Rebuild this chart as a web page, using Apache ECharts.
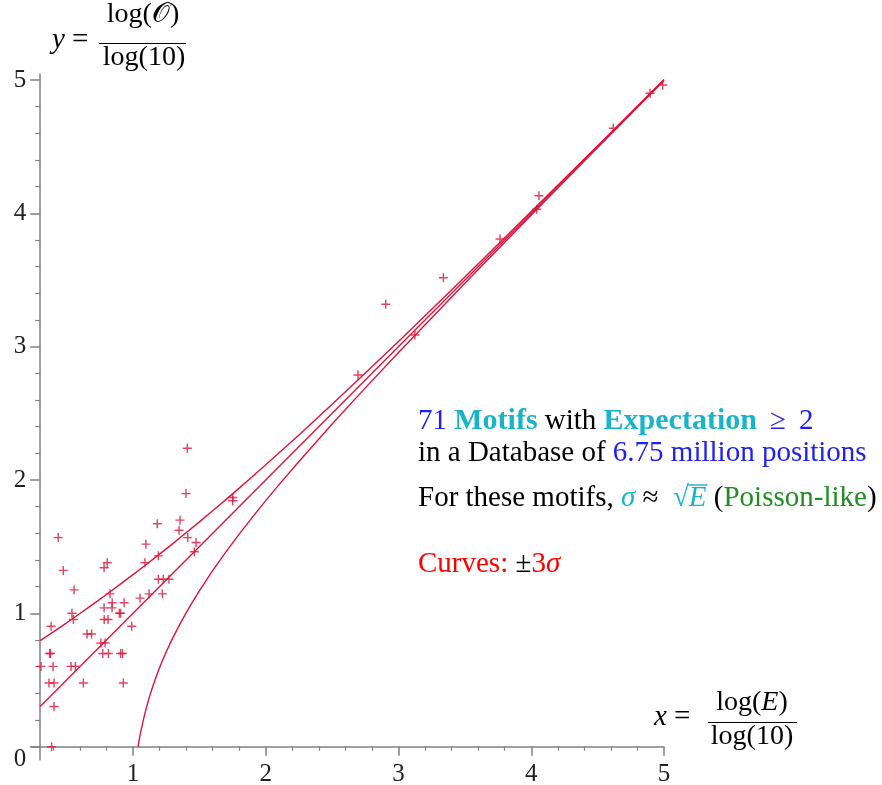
<!DOCTYPE html>
<html><head><meta charset="utf-8">
<script src="https://cdn.jsdelivr.net/npm/echarts@6/dist/echarts.min.js"></script>
<style>html,body{margin:0;padding:0;background:#fff}#c{width:882px;height:785px}</style>
</head><body><div id="c"></div>
<script>
// Observed motifs: x = log10(E), y = log10(O)
const obsX = [0.387, 0.405, 0.367, 0.405, 0.626, 0.927, 0.307, 0.398, 0.533, 0.566,
  0.372, 0.378, 0.772, 0.815, 0.907, 0.921, 0.758, 0.790, 0.654, 0.688,
  0.383, 0.990, 0.551, 0.783, 0.812, 0.540, 0.897, 0.907, 0.782, 0.842,
  0.843, 0.933, 1.053, 0.827, 1.121, 1.221, 0.556, 1.191, 1.228, 1.271,
  0.475, 0.782, 0.806, 1.090, 1.191, 1.462, 1.097, 1.475, 0.437, 1.412,
  1.347, 1.183, 1.354, 1.399, 1.751, 1.751, 1.409,
  2.695, 2.904, 3.124, 3.338, 3.765, 4.041, 4.058, 4.618, 4.895, 4.990];
const obsY = [0.000, 0.301, 0.477, 0.477, 0.477, 0.477, 0.602, 0.602, 0.602, 0.602,
  0.699, 0.699, 0.699, 0.699, 0.699, 0.699, 0.778, 0.778, 0.845, 0.845,
  0.903, 0.903, 0.954, 0.954, 0.954, 1.000, 1.000, 1.000, 1.041, 1.041,
  1.079, 1.079, 1.114, 1.146, 1.146, 1.146, 1.176, 1.255, 1.255, 1.255,
  1.322, 1.342, 1.380, 1.380, 1.431, 1.462, 1.519, 1.531, 1.568, 1.568,
  1.623, 1.672, 1.699, 1.898, 1.869, 1.845, 2.238,
  2.788, 3.318, 3.088, 3.517, 3.808, 4.030, 4.132, 4.638, 4.900, 4.963];

// Curves (+3 sigma, expectation, -3 sigma)
const upperX = [0.301, 0.4, 0.5, 0.6, 0.7, 0.8, 0.9, 1.0, 1.1, 1.2, 1.3, 1.4, 1.5, 1.6, 1.7, 1.8, 1.9, 2.0, 2.25, 2.5, 2.75, 3.0, 3.5, 4.0, 4.5, 5.0];
const upperY = [0.795, 0.861, 0.929, 0.999, 1.069, 1.141, 1.215, 1.290, 1.366, 1.444, 1.523, 1.604, 1.686, 1.769, 1.853, 1.939, 2.026, 2.114, 2.338, 2.568, 2.802, 3.039, 3.523, 4.013, 4.507, 5.004];
const midX = [0.301, 5.0];
const midY = [0.301, 5.0];
const lowerX = [1.038, 1.045, 1.05, 1.06, 1.075, 1.09, 1.1, 1.125, 1.15, 1.175, 1.2, 1.225, 1.25, 1.275, 1.3, 1.35, 1.4, 1.45, 1.5, 1.6, 1.7, 1.8, 1.9, 2.0, 2.1, 2.25, 2.5, 2.75, 3.0, 3.5, 4.0, 4.5, 5.0];
const lowerY = [0.000, 0.041, 0.069, 0.119, 0.188, 0.250, 0.289, 0.377, 0.455, 0.526, 0.592, 0.653, 0.710, 0.765, 0.816, 0.913, 1.003, 1.088, 1.169, 1.320, 1.461, 1.594, 1.722, 1.845, 1.965, 2.139, 2.420, 2.691, 2.957, 3.476, 3.987, 4.493, 4.996];

// Ticks
const xMajorTicks = [1, 2, 3, 4, 5];
const xMinorTicks = [0.4, 0.6, 0.8, 1.2, 1.4, 1.6, 1.8, 2.2, 2.4, 2.6, 2.8, 3.2, 3.4, 3.6, 3.8, 4.2, 4.4, 4.6, 4.8];
const yMajorTicks = [0, 1, 2, 3, 4, 5];
const yMinorTicks = [0.2, 0.4, 0.6, 0.8, 1.2, 1.4, 1.6, 1.8, 2.2, 2.4, 2.6, 2.8, 3.2, 3.4, 3.6, 3.8, 4.2, 4.4, 4.6, 4.8];

const zip = (a, b) => a.map((v, i) => [v, b[i]]);

const FONT = 'Liberation Serif';
const SIZE = 29;
const CRIMSON = '#dc143c';
const BLUE = '#2020f0', CYAN = '#19b4c8', GREEN = '#228b22', RED = '#ff0000', BLACK = '#000';
const AX = '#808080';

const ctx = document.createElement('canvas').getContext('2d');
function fontStr(s) { return (s.i ? 'italic ' : '') + (s.b ? 'bold ' : '') + (s.size || (s.b ? SIZE + 1 : SIZE)) + 'px "' + FONT + '"'; }
function lineElems(segs, x, y, out) {
  let cx = x;
  segs.forEach(s => {
    const f = fontStr(s);
    ctx.font = f;
    const w = ctx.measureText(s.t).width;
    out.push({ type: 'text', x: cx, y: y, silent: true, z: 10,
      style: { text: s.t, fill: s.c || BLACK, font: f, align: 'left', verticalAlign: 'middle' } });
    s.x0 = cx; s.w = w; cx += w;
  });
  return segs;
}
function measure(segs) { let t = 0; segs.forEach(s => { ctx.font = fontStr(s); t += ctx.measureText(s.t).width; }); return t; }
const g = [];
lineElems([{ t: '71 ', c: BLUE }, { t: 'Motifs', c: CYAN, b: 1 }, { t: ' with ' }, { t: 'Expectation', c: CYAN, b: 1 }, { t: ' \u2009≥\u2009 2', c: BLUE }], 418, 421, g);
lineElems([{ t: 'in a Database of ' }, { t: '6.75 million positions', c: BLUE }], 418, 453, g);
const l3 = lineElems([{ t: 'For these motifs, ' }, { t: 'σ', c: CYAN, i: 1 }, { t: ' ≈\u2002' }, { t: '√', c: CYAN }, { t: 'E', c: CYAN, i: 1 }, { t: ' (' }, { t: 'Poisson-like', c: GREEN }, { t: ')' }], 418, 498, g);
g.push({ type: 'line', silent: true, z: 10, shape: { x1: l3[3].x0 + l3[3].w - 1, y1: 485, x2: l3[4].x0 + l3[4].w + 1, y2: 485 }, style: { stroke: CYAN, lineWidth: 1.4 } });
lineElems([{ t: 'Curves:', c: RED }, { t: ' ±' }, { t: '3', c: RED }, { t: 'σ', c: RED, i: 1 }], 418, 564, g);

// axis names as fractions
lineElems([{ t: 'y', i: 1 }, { t: ' =' }], 52, 40, g);
g.push({ type: 'text', x: 143, y: 15, silent: true, style: { text: 'log(𝒪)', fill: BLACK, font: fontStr({ size: 28 }), align: 'center', verticalAlign: 'middle' } });
g.push({ type: 'line', silent: true, shape: { x1: 99, y1: 43.5, x2: 186, y2: 43.5 }, style: { stroke: BLACK, lineWidth: 1.2 } });
g.push({ type: 'text', x: 144, y: 58, silent: true, style: { text: 'log(10)', fill: BLACK, font: fontStr({ size: 28 }), align: 'center', verticalAlign: 'middle' } });

lineElems([{ t: 'x', i: 1 }, { t: ' =' }], 654, 717, g);
const numX = [{ t: 'log(', size: 28 }, { t: 'E', i: 1, size: 28 }, { t: ')', size: 28 }];
lineElems(numX, 752 - measure(numX) / 2, 703, g);
g.push({ type: 'line', silent: true, shape: { x1: 708, y1: 722.5, x2: 797, y2: 722.5 }, style: { stroke: BLACK, lineWidth: 1.2 } });
g.push({ type: 'text', x: 752, y: 737, silent: true, style: { text: 'log(10)', fill: BLACK, font: fontStr({ size: 28 }), align: 'center', verticalAlign: 'middle' } });

const chart = echarts.init(document.getElementById('c'), null, { renderer: 'canvas' });
const tickFont = { fontFamily: FONT, fontSize: 25, color: '#222' };
const baseX = { type: 'value', min: 0.2316, max: 5, splitLine: { show: false },
  axisLine: { onZero: true, onZeroAxisIndex: 0, lineStyle: { color: AX, width: 1.5 } } };
const baseY = { type: 'value', min: -0.1, max: 5.045, offset: -9.2, splitLine: { show: false },
  axisLine: { onZero: false, lineStyle: { color: AX, width: 1.5 } } };
chart.setOption({
  animation: false,
  backgroundColor: '#fff',
  grid: { left: 31, right: 218, top: 74, bottom: 25, containLabel: false, outerBoundsMode: 'none' },
  xAxis: [
    Object.assign({}, baseX, {
      axisTick: { show: true, customValues: xMajorTicks, length: 9, lineStyle: { color: AX, width: 1.5 } },
      axisLabel: Object.assign({ customValues: xMajorTicks, margin: 2 }, tickFont)
    }),
    Object.assign({}, baseX, {
      axisLine: { show: false, onZero: true, onZeroAxisIndex: 0 },
      axisTick: { show: true, customValues: xMinorTicks, length: 4, lineStyle: { color: AX, width: 1.2 } },
      axisLabel: { show: false }, position: 'bottom'
    })
  ],
  yAxis: [
    Object.assign({}, baseY, {
      axisTick: { show: true, customValues: yMajorTicks, length: 10, lineStyle: { color: AX, width: 1.5 } },
      axisLabel: Object.assign({ customValues: yMajorTicks, margin: 14,
        formatter: v => (v === 0 ? '{z|0}' : String(v)),
        rich: { z: { fontFamily: FONT, fontSize: 25, color: '#222', padding: [26, 0, 0, 0] } } }, tickFont)
    }),
    Object.assign({}, baseY, {
      axisLine: { show: false },
      axisTick: { show: true, customValues: yMinorTicks, length: 5, lineStyle: { color: AX, width: 1.2 } },
      axisLabel: { show: false }, position: 'left'
    })
  ],
  series: [
    { type: 'line', data: zip(upperX, upperY), smooth: false, showSymbol: false, symbol: 'none',
      lineStyle: { color: CRIMSON, width: 1.4 }, z: 2 },
    { type: 'line', data: zip(midX, midY), showSymbol: false, symbol: 'none',
      lineStyle: { color: CRIMSON, width: 1.4 }, z: 2 },
    { type: 'line', data: zip(lowerX, lowerY), smooth: false, showSymbol: false, symbol: 'none',
      lineStyle: { color: CRIMSON, width: 1.4 }, z: 2 },
    { type: 'scatter', data: zip(obsX, obsY), symbol: 'path://M4.2,0h1.6v10h-1.6z M0,4.2h10v1.6h-10z', symbolSize: 9,
      itemStyle: { color: CRIMSON }, z: 3, clip: false }
  ],
  graphic: g
});
</script></body></html>
